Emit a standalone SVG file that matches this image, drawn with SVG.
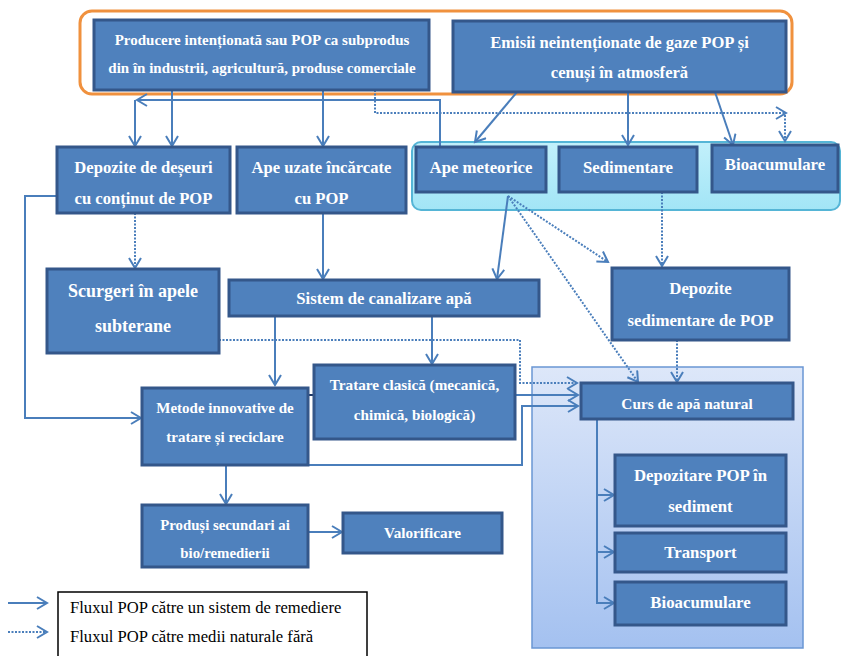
<svg xmlns="http://www.w3.org/2000/svg" width="843" height="656" viewBox="0 0 843 656">
<style>
.box{fill:#4F81BD;stroke:#34578A;stroke-width:3}
.t{font-family:'Liberation Serif','Times New Roman',serif;font-weight:bold;fill:#FFFFFF;text-anchor:middle}
.lg{font-family:'Liberation Serif','Times New Roman',serif;fill:#000;font-size:16.6px}
.c{fill:none;stroke:#4A7EBB;stroke-width:2}
.d{fill:none;stroke:#4A7EBB;stroke-width:2;stroke-dasharray:2 1.5}
</style>
<defs>
<marker id="ah" markerUnits="userSpaceOnUse" markerWidth="14" markerHeight="16" refX="11" refY="7" orient="auto">
<path d="M1,1 L11,7 L1,13" fill="none" stroke="#4A7EBB" stroke-width="2"/>
</marker>
<marker id="ahd" markerUnits="userSpaceOnUse" markerWidth="14" markerHeight="16" refX="11" refY="7" orient="auto">
<path d="M1,1 L11,7 L1,13" fill="none" stroke="#1F3864" stroke-width="2"/>
</marker>
<marker id="ahds" markerUnits="userSpaceOnUse" markerWidth="14" markerHeight="16" refX="1" refY="7" orient="auto">
<path d="M11,1 L1,7 L11,13" fill="none" stroke="#1F3864" stroke-width="2"/>
</marker>
<linearGradient id="cy" x1="0" y1="0" x2="0" y2="1">
<stop offset="0" stop-color="#C2F0FB"/>
<stop offset="1" stop-color="#A2E5F6"/>
</linearGradient>
<linearGradient id="bl" x1="0" y1="0" x2="0" y2="1">
<stop offset="0" stop-color="#DDE7F9"/>
<stop offset="1" stop-color="#A4C1F0"/>
</linearGradient>
</defs>

<g id="containers">
<rect x="80" y="11" width="712" height="83" rx="12" fill="none" stroke="#F0913E" stroke-width="3"/>
<rect x="412" y="142" width="428" height="68" rx="9" fill="url(#cy)" stroke="#55B5D6" stroke-width="2"/>
<rect x="532" y="367" width="271" height="281" fill="url(#bl)" stroke="#6A96D4" stroke-width="1.5"/>
</g>

<g id="connectors">
<path class="c" d="M172,90 V146" marker-end="url(#ah)"/>
<path class="c" d="M323,90 V146" marker-end="url(#ah)"/>
<path class="c" d="M440,147 V100 H137" marker-end="url(#ah)"/>
<path class="c" d="M135,100 V146" marker-end="url(#ah)"/>
<path class="d" d="M375,90 V113 H786" marker-end="url(#ah)"/>
<path class="d" d="M785,115 V141" marker-end="url(#ah)"/>
<path class="c" d="M517,92 L475,142" marker-end="url(#ah)"/>
<path class="c" d="M628,92 V145" marker-end="url(#ah)"/>
<path class="c" d="M715,92 L733,145" marker-end="url(#ah)"/>
<path class="d" d="M135,213 V268" marker-end="url(#ah)"/>
<path class="c" d="M323,213 V279" marker-end="url(#ah)"/>
<path class="c" d="M57,196 H25 V418 H141" marker-end="url(#ah)"/>
<path class="c" d="M275,316 V385" marker-end="url(#ah)"/>
<path class="c" d="M432,316 V364" marker-end="url(#ah)"/>
<path class="d" d="M219,340 H520 V383 H577" marker-end="url(#ah)"/>
<path d="M281,395 H331" fill="none" stroke="#1F3864" stroke-width="2" marker-start="url(#ahds)" marker-end="url(#ahd)"/>
<path class="c" d="M515,395 H578" marker-end="url(#ah)"/>
<path class="c" d="M308,465 H522 V406 H578" marker-end="url(#ah)"/>
<path class="c" d="M508,196 L497,279" marker-end="url(#ah)"/>
<path class="d" d="M508,196 L608,262" marker-end="url(#ah)"/>
<path class="d" d="M508,196 L638,382" marker-end="url(#ah)"/>
<path class="d" d="M662,192 V266" marker-end="url(#ah)"/>
<path class="d" d="M677,340 V382" marker-end="url(#ah)"/>
<path class="c" d="M597,419 V603 H614" marker-end="url(#ah)"/>
<path class="c" d="M597,495 H614" marker-end="url(#ah)"/>
<path class="c" d="M597,552 H614" marker-end="url(#ah)"/>
<path class="c" d="M226,465 V504" marker-end="url(#ah)"/>
<path class="c" d="M308,532 H342" marker-end="url(#ah)"/>
</g>

<g id="n-producere">
<rect class="box" x="94" y="20" width="335" height="70"/>
<text class="t" x="262" y="45" font-size="15">Producere intenționată sau POP ca subprodus</text>
<text class="t" x="262" y="73" font-size="15">din în industrii, agricultură, produse comerciale</text>
</g>
<g id="n-emisii">
<rect class="box" x="453" y="21" width="333" height="71"/>
<text class="t" x="619.5" y="48" font-size="16.6">Emisii neintenționate de gaze POP și</text>
<text class="t" x="619.5" y="78" font-size="16.6">cenuși în atmosferă</text>
</g>
<g id="n-depozite-deseuri">
<rect class="box" x="57" y="147" width="173" height="66"/>
<text class="t" x="143.5" y="173" font-size="16.6">Depozite de deșeuri</text>
<text class="t" x="143.5" y="204" font-size="16.6">cu conținut de POP</text>
</g>
<g id="n-ape-uzate">
<rect class="box" x="237" y="147" width="169" height="66"/>
<text class="t" x="321.5" y="173" font-size="16.6">Ape uzate încărcate</text>
<text class="t" x="321.5" y="204" font-size="16.6">cu POP</text>
</g>
<g id="n-ape-meteorice">
<rect class="box" x="416" y="147" width="130" height="45"/>
<text class="t" x="481" y="173" font-size="16.8">Ape meteorice</text>
</g>
<g id="n-sedimentare">
<rect class="box" x="559" y="147" width="138" height="45"/>
<text class="t" x="628" y="173" font-size="16.8">Sedimentare</text>
</g>
<g id="n-bioacumulare-1">
<rect class="box" x="712" y="145" width="126" height="47"/>
<text class="t" x="775" y="170" font-size="16.8">Bioacumulare</text>
</g>
<g id="n-scurgeri">
<rect class="box" x="47" y="269" width="172" height="84"/>
<text class="t" x="133" y="297" font-size="18">Scurgeri în apele</text>
<text class="t" x="133" y="332" font-size="18">subterane</text>
</g>
<g id="n-sistem">
<rect class="box" x="229" y="280" width="310" height="36"/>
<text class="t" x="384" y="304" font-size="16.7">Sistem de canalizare apă</text>
</g>
<g id="n-depozite-sed">
<rect class="box" x="612" y="268" width="177" height="72"/>
<text class="t" x="700.5" y="294" font-size="16.8">Depozite</text>
<text class="t" x="700.5" y="326" font-size="16.8">sedimentare de POP</text>
</g>
<g id="n-tratare">
<rect class="box" x="314" y="365" width="201" height="74"/>
<text class="t" x="414.5" y="390" font-size="15.2">Tratare clasică (mecanică,</text>
<text class="t" x="414.5" y="420" font-size="15.2">chimică, biologică)</text>
</g>
<g id="n-metode">
<rect class="box" x="142" y="388" width="166" height="77"/>
<text class="t" x="225" y="413" font-size="15">Metode innovative de</text>
<text class="t" x="225" y="442" font-size="15">tratare și reciclare</text>
</g>
<g id="n-curs">
<rect class="box" x="581" y="383" width="212" height="36"/>
<text class="t" x="687" y="409" font-size="15.3">Curs de apă natural</text>
</g>
<g id="n-depozitare">
<rect class="box" x="615" y="455" width="171" height="71"/>
<text class="t" x="700.5" y="481" font-size="16.8">Depozitare POP în</text>
<text class="t" x="700.5" y="512" font-size="16.8">sediment</text>
</g>
<g id="n-transport">
<rect class="box" x="615" y="533" width="171" height="39"/>
<text class="t" x="700.5" y="558" font-size="16.8">Transport</text>
</g>
<g id="n-bioacumulare-2">
<rect class="box" x="615" y="582" width="171" height="43"/>
<text class="t" x="700.5" y="608" font-size="16.8">Bioacumulare</text>
</g>
<g id="n-produsi">
<rect class="box" x="142" y="505" width="166" height="62"/>
<text class="t" x="225" y="530" font-size="14.8">Produși secundari ai</text>
<text class="t" x="225" y="558" font-size="14.8">bio/remedierii</text>
</g>
<g id="n-valorificare">
<rect class="box" x="343" y="513" width="159" height="40"/>
<text class="t" x="422.5" y="538" font-size="15.2">Valorificare</text>
</g>

<g id="legend">
<rect x="58" y="592" width="309" height="70" fill="#FFFFFF" stroke="#000" stroke-width="1.5"/>
<path class="c" d="M8,603 H47" marker-end="url(#ah)"/>
<path class="d" d="M8,632 H47" marker-end="url(#ah)"/>
<text class="lg" x="70" y="613">Fluxul POP către un sistem de remediere</text>
<text class="lg" x="70" y="642">Fluxul POP către medii naturale fără</text>
</g>
</svg>
